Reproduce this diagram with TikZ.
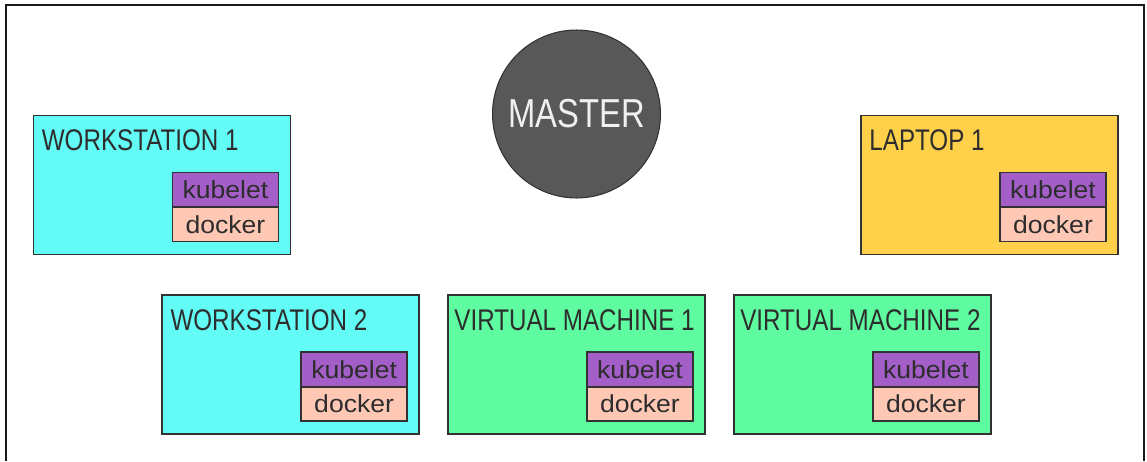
\documentclass[tikz,border=0pt]{standalone}
\usepackage{fontspec}
\usepackage{xcolor}
\usepackage{tikz}
\usetikzlibrary{positioning}

\newfontfamily\boxfont[FakeStretch=0.81]{Liberation Sans}
\newfontfamily\partfont[FakeStretch=1.08]{Liberation Sans}

\definecolor{wscyan}{RGB}{98,251,246}
\definecolor{lapyellow}{RGB}{255,208,74}
\definecolor{vmgreen}{RGB}{94,251,160}
\definecolor{kubepurple}{RGB}{164,94,200}
\definecolor{dockerpeach}{RGB}{255,200,180}
\definecolor{mastergray}{RGB}{88,88,88}
\definecolor{edgegray}{RGB}{50,50,50}
\definecolor{inkgray}{RGB}{45,45,45}

\begin{document}
\begin{tikzpicture}[x=0.02cm, y=0.02cm,
	machine/.style={rectangle, draw=edgegray, line width=1.1pt, minimum width=5.14cm, minimum height=2.78cm, inner sep=0pt},
	lbl/.style={inner sep=0pt, anchor=base west, text=inkgray, font=\boxfont\fontsize{17}{20}\selectfont},
	part/.style={rectangle, draw=edgegray, line width=1.1pt, minimum width=2.12cm, minimum height=0.69cm, inner sep=0pt, text=inkgray, font=\partfont\fontsize{14}{16}\selectfont},
	kube/.style={part, fill=kubepurple, anchor=north east},
	dock/.style={part, fill=dockerpeach, below=-1.1pt of #1}]
	\useasboundingbox (0,0) rectangle (1147,461);
	% outer frame, bottom edge is cut off
	\draw[line width=1.6pt, black!90] (6,0) -- (6,456) -- (1144,456) -- (1144,0);

	\node[circle, fill=mastergray, draw=edgegray, line width=0.6pt, minimum size=3.36cm, text=white!94!black, font=\boxfont\fontsize{23}{26}\selectfont] (Master) at (576.5,347) {MASTER};

	\node[machine, fill=vmgreen, below=1.92cm of Master] (VM1) {};
	\node[machine, fill=wscyan, left=0.54cm of VM1] (WS2) {};
	\node[machine, fill=vmgreen, right=0.54cm of VM1] (VM2) {};
	\node[machine, fill=wscyan] (WS1) at (162,276) {};
	\node[machine, fill=lapyellow] (Laptop1) at (989.5,276) {};

	\node[lbl] at ([shift={(9,-36)}]WS1.north west) {WORKSTATION 1};
	\node[lbl] at ([shift={(9,-36)}]Laptop1.north west) {LAPTOP 1};
	\node[lbl] at ([shift={(9,-36)}]WS2.north west) {WORKSTATION 2};
	\node[lbl] at ([shift={(7,-36)}]VM1.north west) {VIRTUAL MACHINE 1};
	\node[lbl] at ([shift={(7,-36)}]VM2.north west) {VIRTUAL MACHINE 2};

	\node[kube] (kubeWS1) at ([shift={(-12,-57)}]WS1.north east) {kubelet};
	\node[dock=kubeWS1] (dockWS1) {docker};
	\node[kube] (kubeLaptop1) at ([shift={(-12,-57)}]Laptop1.north east) {kubelet};
	\node[dock=kubeLaptop1] (dockLaptop1) {docker};
	\node[kube] (kubeWS2) at ([shift={(-12,-57)}]WS2.north east) {kubelet};
	\node[dock=kubeWS2] (dockWS2) {docker};
	\node[kube] (kubeVM1) at ([shift={(-12,-57)}]VM1.north east) {kubelet};
	\node[dock=kubeVM1] (dockVM1) {docker};
	\node[kube] (kubeVM2) at ([shift={(-12,-57)}]VM2.north east) {kubelet};
	\node[dock=kubeVM2] (dockVM2) {docker};
\end{tikzpicture}
\end{document}
